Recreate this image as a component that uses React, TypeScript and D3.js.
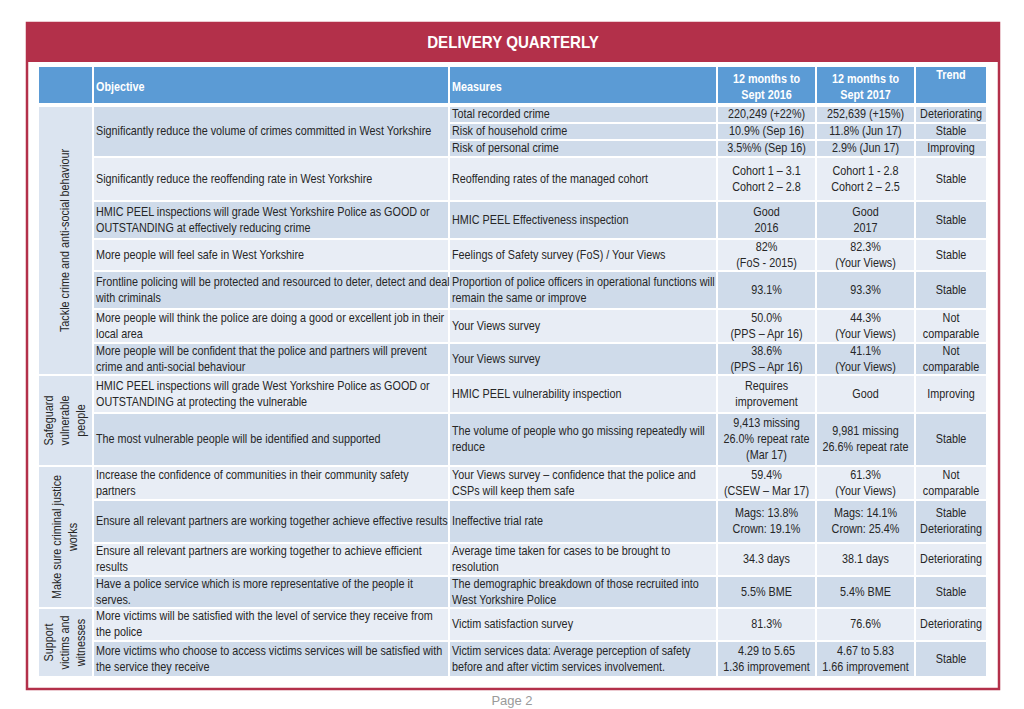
import React, { useRef, useEffect } from "react";
import * as d3 from "d3";

// table content
const title = "DELIVERY QUARTERLY";
const headers = ["", "Objective", "Measures", "12 months to\nSept 2016", "12 months to\nSept 2017", "Trend"];
const groups = [
  "Tackle crime and anti-social behaviour",
  "Safeguard\nvulnerable\npeople",
  "Make sure criminal justice\nworks",
  "Support\nvictims and\nwitnesses",
];
const groupSizes = [7, 2, 4, 2];

const objectives = [
  "Significantly reduce the volume of crimes committed in West Yorkshire",
  "Significantly reduce the reoffending rate in West Yorkshire",
  "HMIC PEEL inspections will grade West Yorkshire Police as GOOD or\nOUTSTANDING at effectively reducing crime",
  "More people will feel safe in West Yorkshire",
  "Frontline policing will be protected and resourced to deter, detect and deal\nwith criminals",
  "More people will think the police are doing a good or excellent job in their\nlocal area",
  "More people will be confident that the police and partners will prevent\ncrime and anti-social behaviour",
  "HMIC PEEL inspections will grade West Yorkshire Police as GOOD or\nOUTSTANDING at protecting the vulnerable",
  "The most vulnerable people will be identified and supported",
  "Increase the confidence of communities in their community safety\npartners",
  "Ensure all relevant partners are working together achieve effective results",
  "Ensure all relevant partners are working together to achieve efficient\nresults",
  "Have a police service which is more representative of the people it\nserves.",
  "More victims will be satisfied with the level of service they receive from\nthe police",
  "More victims who choose to access victims services will be satisfied with\nthe service they receive",
];

// each row is a list of sub-rows
const measures = [
  ["Total recorded crime", "Risk of household crime", "Risk of personal crime"],
  ["Reoffending rates of the managed cohort"],
  ["HMIC PEEL Effectiveness inspection"],
  ["Feelings of Safety survey (FoS) / Your Views"],
  ["Proportion of police officers in operational functions will\nremain the same or improve"],
  ["Your Views survey"],
  ["Your Views survey"],
  ["HMIC PEEL vulnerability inspection"],
  ["The volume of people who go missing repeatedly will\nreduce"],
  ["Your Views survey \u2013 confidence that the police and\nCSPs will keep them safe"],
  ["Ineffective trial rate"],
  ["Average time taken for cases to be brought to\nresolution"],
  ["The demographic breakdown of those recruited into\nWest Yorkshire Police"],
  ["Victim satisfaction survey"],
  ["Victim services data: Average perception of safety\nbefore and after victim services involvement."],
];

const sept2016 = [
  ["220,249 (+22%)", "10.9% (Sep 16)", "3.5%% (Sep 16)"],
  ["Cohort 1 \u2013 3.1\nCohort 2 \u2013 2.8"],
  ["Good\n2016"],
  ["82%\n(FoS - 2015)"],
  ["93.1%"],
  ["50.0%\n(PPS \u2013 Apr 16)"],
  ["38.6%\n(PPS \u2013 Apr 16)"],
  ["Requires\nimprovement"],
  ["9,413 missing\n26.0% repeat rate\n(Mar 17)"],
  ["59.4%\n(CSEW \u2013 Mar 17)"],
  ["Mags: 13.8%\nCrown: 19.1%"],
  ["34.3 days"],
  ["5.5% BME"],
  ["81.3%"],
  ["4.29 to 5.65\n1.36 improvement"],
];

const sept2017 = [
  ["252,639 (+15%)", "11.8% (Jun 17)", "2.9% (Jun 17)"],
  ["Cohort 1 - 2.8\nCohort 2 \u2013 2.5"],
  ["Good\n2017"],
  ["82.3%\n(Your Views)"],
  ["93.3%"],
  ["44.3%\n(Your Views)"],
  ["41.1%\n(Your Views)"],
  ["Good"],
  ["9,981 missing\n26.6% repeat rate"],
  ["61.3%\n(Your Views)"],
  ["Mags: 14.1%\nCrown: 25.4%"],
  ["38.1 days"],
  ["5.4% BME"],
  ["76.6%"],
  ["4.67 to 5.83\n1.66 improvement"],
];

const trends = [
  ["Deteriorating", "Stable", "Improving"],
  ["Stable"],
  ["Stable"],
  ["Stable"],
  ["Stable"],
  ["Not\ncomparable"],
  ["Not\ncomparable"],
  ["Improving"],
  ["Stable"],
  ["Not\ncomparable"],
  ["Stable\nDeteriorating"],
  ["Deteriorating"],
  ["Stable"],
  ["Deteriorating"],
  ["Stable"],
];

// layout
const colWidths = [55, 356, 268, 99, 99, 72];
const rowHeights = [51, 44, 38, 32, 38, 34, 32, 38, 53, 34, 43, 33, 32, 33, 36];

const RED = "#b3304a";
const BLUE = "#5b9bd5";
const DARK = "#cfdbea";
const LIGHT = "#e8edf5";
const GROUP = "#dbe4f0";
const INK = "#262626";
const FONT = "'Liberation Sans', Arial, sans-serif";
const SQUEEZE = 0.865; // the source uses a narrow face

function Table() {
  const svgRef = useRef(null);

  useEffect(() => {
    d3.select(svgRef.current).selectAll("*").remove();
    const width = 1024;
    const height = 709;
    const svg = d3.select(svgRef.current)
      .attr("width", width)
      .attr("height", height)
      .style("position", "absolute")
      .style("left", 0)
      .style("top", 0)
      .style("font-family", FONT);

    // scales
    const colEdges = d3.cumsum([0, ...colWidths]);
    const xScale = d3.scaleLinear().domain([0, colEdges[colEdges.length - 1]]).range([38, 987]);
    const rowEdges = d3.cumsum([0, ...rowHeights]);
    const yScale = d3.scaleLinear().domain([0, rowEdges[rowEdges.length - 1]]).range([106, 677]);
    const lh = 16;

    const lines = (g, text, x, cy, anchor, color = INK, weight = "normal") => {
      const parts = text.split("\n");
      g.append("g")
        .attr("transform", `translate(${x},0) scale(${SQUEEZE},1)`)
        .append("text")
        .attr("text-anchor", anchor)
        .attr("fill", color)
        .attr("font-weight", weight)
        .attr("font-size", 12.5)
        .selectAll("tspan")
        .data(parts)
        .join("tspan")
          .attr("x", 0)
          .attr("y", (d, i) => cy - 1 + (i - (parts.length - 1) / 2) * lh)
          .attr("dominant-baseline", "central")
          .text(d => d);
    };

    // frame
    svg.append("rect")
      .attr("x", 27).attr("y", 23).attr("width", 972).attr("height", 666)
      .attr("fill", "white").attr("stroke", RED).attr("stroke-width", 2.5);
    svg.append("rect")
      .attr("x", 27).attr("y", 23).attr("width", 972).attr("height", 39)
      .attr("fill", RED);
    svg.append("g")
      .attr("transform", `translate(513,0) scale(0.89,1)`)
      .append("text")
      .attr("y", 42)
      .attr("text-anchor", "middle").attr("dominant-baseline", "central")
      .attr("fill", "white").attr("font-size", 17).attr("font-weight", "bold")
      .text(title);

    // header
    const head = svg.append("g");
    headers.forEach((h, c) => {
      const x0 = xScale(colEdges[c]);
      const x1 = xScale(colEdges[c + 1]);
      head.append("rect")
        .attr("x", x0 + 1).attr("y", 67).attr("width", x1 - x0 - 2).attr("height", 36)
        .attr("fill", BLUE);
      if (!h) return;
      lines(head, h, c < 3 ? x0 + 3 : (x0 + x1) / 2, c === 5 ? 75 : 87, c < 3 ? "start" : "middle", "white", "bold");
    });

    // body
    const body = svg.append("g");
    objectives.forEach((obj, r) => {
      const y0 = yScale(rowEdges[r]);
      const y1 = yScale(rowEdges[r + 1]);
      const fill = r % 2 === 0 ? DARK : LIGHT;
      const ox0 = xScale(colEdges[1]);
      const ox1 = xScale(colEdges[2]);
      body.append("rect")
        .attr("x", ox0 + 1).attr("y", y0 + 1).attr("width", ox1 - ox0 - 2).attr("height", y1 - y0 - 2)
        .attr("fill", fill);
      lines(body, obj, ox0 + 3, (y0 + y1) / 2, "start");

      [measures, sept2016, sept2017, trends].forEach((col, k) => {
        const c = k + 2;
        const x0 = xScale(colEdges[c]);
        const x1 = xScale(colEdges[c + 1]);
        const subs = col[r];
        const sub = d3.scaleLinear().domain([0, subs.length]).range([y0, y1]);
        subs.forEach((s, i) => {
          const sy0 = sub(i);
          const sy1 = sub(i + 1);
          body.append("rect")
            .attr("x", x0 + 1).attr("y", sy0 + 1).attr("width", x1 - x0 - 2).attr("height", sy1 - sy0 - 2)
            .attr("fill", fill);
          lines(body, s, c === 2 ? x0 + 3 : (x0 + x1) / 2, (sy0 + sy1) / 2, c === 2 ? "start" : "middle");
        });
      });
    });

    // group column
    const gStarts = d3.cumsum([0, ...groupSizes]);
    const gx0 = xScale(colEdges[0]);
    const gx1 = xScale(colEdges[1]);
    groups.forEach((label, gi) => {
      const y0 = yScale(rowEdges[gStarts[gi]]);
      const y1 = yScale(rowEdges[gStarts[gi + 1]]);
      body.append("rect")
        .attr("x", gx0 + 1).attr("y", y0 + 1).attr("width", gx1 - gx0 - 2).attr("height", y1 - y0 - 2)
        .attr("fill", GROUP);
      const g = body.append("g")
        .attr("transform", `translate(${(gx0 + gx1) / 2}, ${(y0 + y1) / 2}) rotate(-90)`);
      lines(g, label, 0, 0, "middle");
    });

    svg.append("text")
      .attr("x", 512).attr("y", 700)
      .attr("text-anchor", "middle").attr("dominant-baseline", "central")
      .attr("fill", "#9a9a9a").attr("font-size", 13)
      .text("Page 2");
  }, []);

  return (
    <div>
      <svg ref={svgRef}></svg>
    </div>
  );
}

export default function App() {
  return <Table />;
}
